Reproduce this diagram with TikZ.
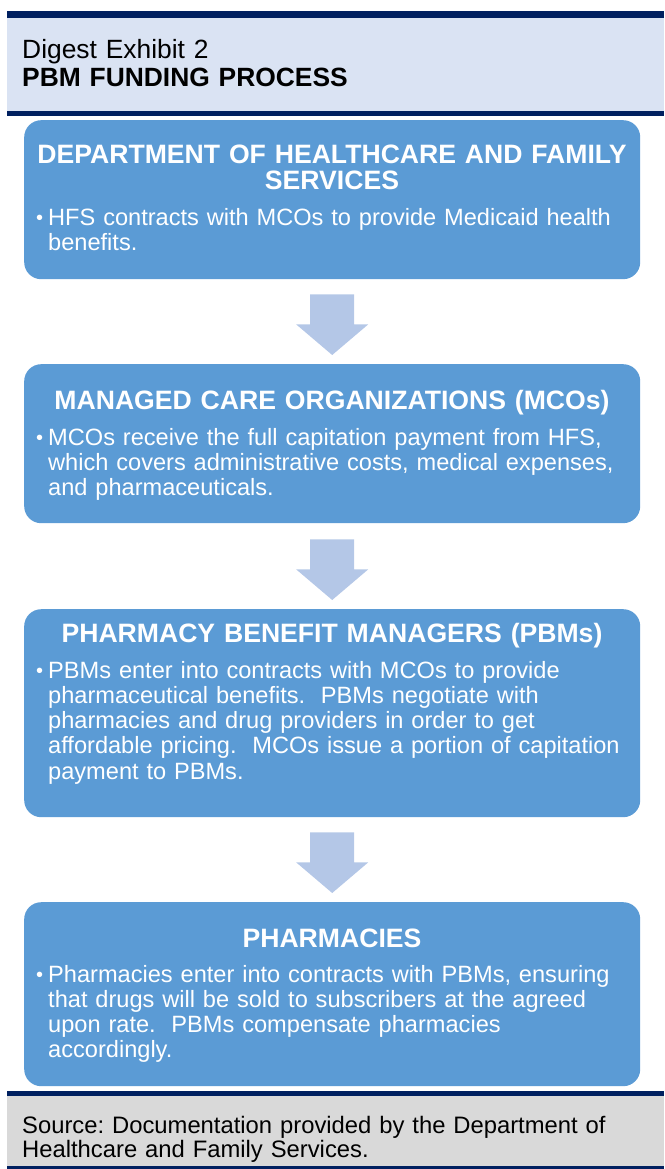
\documentclass[tikz,border=0pt]{standalone}
\usepackage{fontspec}
\setmainfont{Liberation Sans}
\usetikzlibrary{calc}
\frenchspacing
\definecolor{navy}{HTML}{002060}
\definecolor{headfill}{HTML}{DAE3F3}
\definecolor{boxfill}{HTML}{5B9BD5}
\definecolor{arrowfill}{HTML}{B4C7E7}
\definecolor{footfill}{HTML}{D9D9D9}
\tikzset{
  stepbox/.style={fill=boxfill, draw=none, rounded corners=17pt, minimum width=616pt, anchor=north west, inner sep=0pt},
  boxtitle/.style={text=white, inner sep=0pt, anchor=base, text width=610pt, align=center,
     font=\bfseries\fontsize{26.6}{26}\selectfont},
  boxbody/.style={text=white, inner sep=0pt, anchor=base west, text width=590pt, align=left,
     font=\fontsize{23.6}{25.3}\selectfont},
  bulletmark/.style={text=white, inner sep=0pt, anchor=base west, font=\fontsize{20}{24}\selectfont},
  plaintext/.style={text=black, inner sep=0pt, anchor=base west, text width=630pt, align=left},
  flowarrow/.style={fill=arrowfill, draw=none}
}
\begin{document}
\begin{tikzpicture}[x=1pt,y=-1pt]
\useasboundingbox (0,0) rectangle (664,1169);
% header band
\fill[navy] (7,11) rectangle (664,18.5);
\fill[headfill] (7,18.5) rectangle (664,111.5);
\fill[navy] (7,111.5) rectangle (664,116.5);
\node[plaintext, font=\fontsize{26.4}{28}\selectfont] (h1) at (22,58.5) {Digest Exhibit 2};
\node[plaintext, font=\bfseries\fontsize{26.4}{28}\selectfont] (h2) at (22,87) {PBM FUNDING PROCESS};
% boxes
\node[stepbox, minimum height=159pt] (b1) at (24,120) {};
\node[stepbox, minimum height=159pt] (b2) at (24,364) {};
\node[stepbox, minimum height=208pt] (b3) at (24,609) {};
\node[stepbox, minimum height=184pt] (b4) at (24,902) {};
% box 1
\node[boxtitle] (t1) at (332,163.5) {DEPARTMENT OF HEALTHCARE AND FAMILY\\SERVICES};
\node[bulletmark] (d1) at (36,224) {•};
\node[boxbody] (p1) at (48,225) {HFS contracts with MCOs to provide Medicaid health\\benefits.};
% box 2
\node[boxtitle] (t2) at (332,409.5) {MANAGED CARE ORGANIZATIONS (MCOs)};
\node[bulletmark] (d2) at (36,444) {•};
\node[boxbody] (p2) at (48,445) {MCOs receive the full capitation payment from HFS,\\which covers administrative costs, medical expenses,\\and pharmaceuticals.};
% box 3
\node[boxtitle] (t3) at (332,642.5) {PHARMACY BENEFIT MANAGERS (PBMs)};
\node[bulletmark] (d3) at (36,677) {•};
\node[boxbody] (p3) at (48,678) {PBMs enter into contracts with MCOs to provide\\pharmaceutical benefits.~ PBMs negotiate with\\pharmacies and drug providers in order to get\\affordable pricing.~ MCOs issue a portion of capitation\\payment to PBMs.};
% box 4
\node[boxtitle] (t4) at (332,947.5) {PHARMACIES};
\node[bulletmark] (d4) at (36,981) {•};
\node[boxbody] (p4) at (48,982) {Pharmacies enter into contracts with PBMs, ensuring\\that drugs will be sold to subscribers at the agreed\\upon rate.~ PBMs compensate pharmacies\\accordingly.};
% arrows
\fill[flowarrow] ($(b1.south)+(-22,15)$) -- ($(b1.south)+(22,15)$) -- ($(b1.south)+(22,45)$) -- ($(b1.south)+(36,45)$) -- ($(b2.north)+(0,-9)$) -- ($(b1.south)+(-36,45)$) -- ($(b1.south)+(-22,45)$) -- cycle;
\fill[flowarrow] ($(b2.south)+(-22,16)$) -- ($(b2.south)+(22,16)$) -- ($(b2.south)+(22,46)$) -- ($(b2.south)+(36,46)$) -- ($(b3.north)+(0,-9)$) -- ($(b2.south)+(-36,46)$) -- ($(b2.south)+(-22,46)$) -- cycle;
\fill[flowarrow] ($(b3.south)+(-22,15)$) -- ($(b3.south)+(22,15)$) -- ($(b3.south)+(22,45)$) -- ($(b3.south)+(36,45)$) -- ($(b4.north)+(0,-9)$) -- ($(b3.south)+(-36,45)$) -- ($(b3.south)+(-22,45)$) -- cycle;
% footer band
\fill[navy] (7,1091) rectangle (664,1096);
\fill[footfill] (7,1096) rectangle (664,1166);
\fill[navy] (7,1166) rectangle (664,1169);
\node[plaintext, font=\fontsize{23.8}{24.5}\selectfont] (s1) at (22,1133) {Source: Documentation provided by the Department of\\Healthcare and Family Services.};
\end{tikzpicture}
\end{document}
